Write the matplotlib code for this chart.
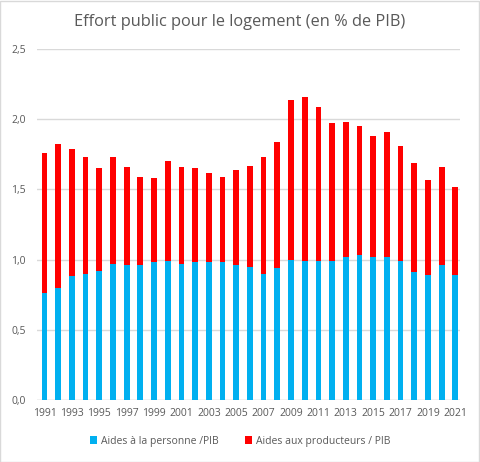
import numpy as np
import matplotlib
matplotlib.use('Agg')
import matplotlib.pyplot as plt
from matplotlib.ticker import FuncFormatter

# Données (% du PIB)
annees = list(range(1991, 2022))
aides_personne = [0.76, 0.80, 0.88, 0.90, 0.92, 0.97, 0.96, 0.96, 0.98, 0.99,
                  0.97, 0.98, 0.98, 0.98, 0.96, 0.95, 0.90, 0.94, 1.00, 0.99,
                  0.99, 0.99, 1.02, 1.03, 1.02, 1.02, 0.99, 0.91, 0.89, 0.96,
                  0.89]
aides_producteurs = [1.00, 1.02, 0.91, 0.83, 0.73, 0.76, 0.70, 0.63, 0.60, 0.71,
                     0.69, 0.67, 0.64, 0.61, 0.68, 0.72, 0.83, 0.90, 1.14, 1.17,
                     1.10, 0.98, 0.96, 0.92, 0.86, 0.89, 0.82, 0.78, 0.68, 0.70,
                     0.63]

plt.rcParams['font.family'] = ['Open Sans', 'DejaVu Sans']
gris = '#595959'

fig = plt.figure(figsize=(4.8, 4.62), dpi=100)
ax = fig.add_axes([0.077, 0.134, 0.881, 0.76])

x = np.arange(len(annees))
ax.bar(x, aides_personne, width=0.42, color='#00B0F0',
       label='Aides à la personne /PIB', zorder=3)
ax.bar(x, aides_producteurs, width=0.42, bottom=aides_personne,
       color='#FF0000', label='Aides aux producteurs / PIB', zorder=3)

ax.set_ylim(0, 2.5)
ax.set_yticks(np.arange(0, 2.51, 0.5))
ax.yaxis.set_major_formatter(FuncFormatter(lambda v, p: f'{v:.1f}'.replace('.', ',')))
ax.set_xlim(-0.55, 30.33)
ax.set_xticks(x[::2])
ax.set_xticklabels([str(a) for a in annees[::2]])
ax.tick_params(axis='both', length=0, labelsize=7.5, colors=gris)
ax.tick_params(axis='x', pad=6)
ax.tick_params(axis='y', pad=8)
ax.grid(axis='y', color='#D9D9D9', linewidth=1, zorder=0)
for s in ax.spines.values():
    s.set_visible(False)
ax.axhline(0, color='#D9D9D9', linewidth=1, zorder=2)

fig.text(0.5, 0.953, 'Effort public pour le logement (en % de PIB)',
         ha='center', va='center', fontsize=11.8, color=gris)

fig.legend(loc='center', bbox_to_anchor=(0.5, 0.045), ncol=2, frameon=False,
           fontsize=7.5, handlelength=0.7, handleheight=0.7, columnspacing=2.5,
           handletextpad=0.4, labelcolor=gris)

fig.patches.append(plt.Rectangle((0.001, 0.001), 0.997, 0.997, transform=fig.transFigure,
                                 fill=False, edgecolor='#D9D9D9', linewidth=1))

fig.savefig('out.png', dpi=100)
